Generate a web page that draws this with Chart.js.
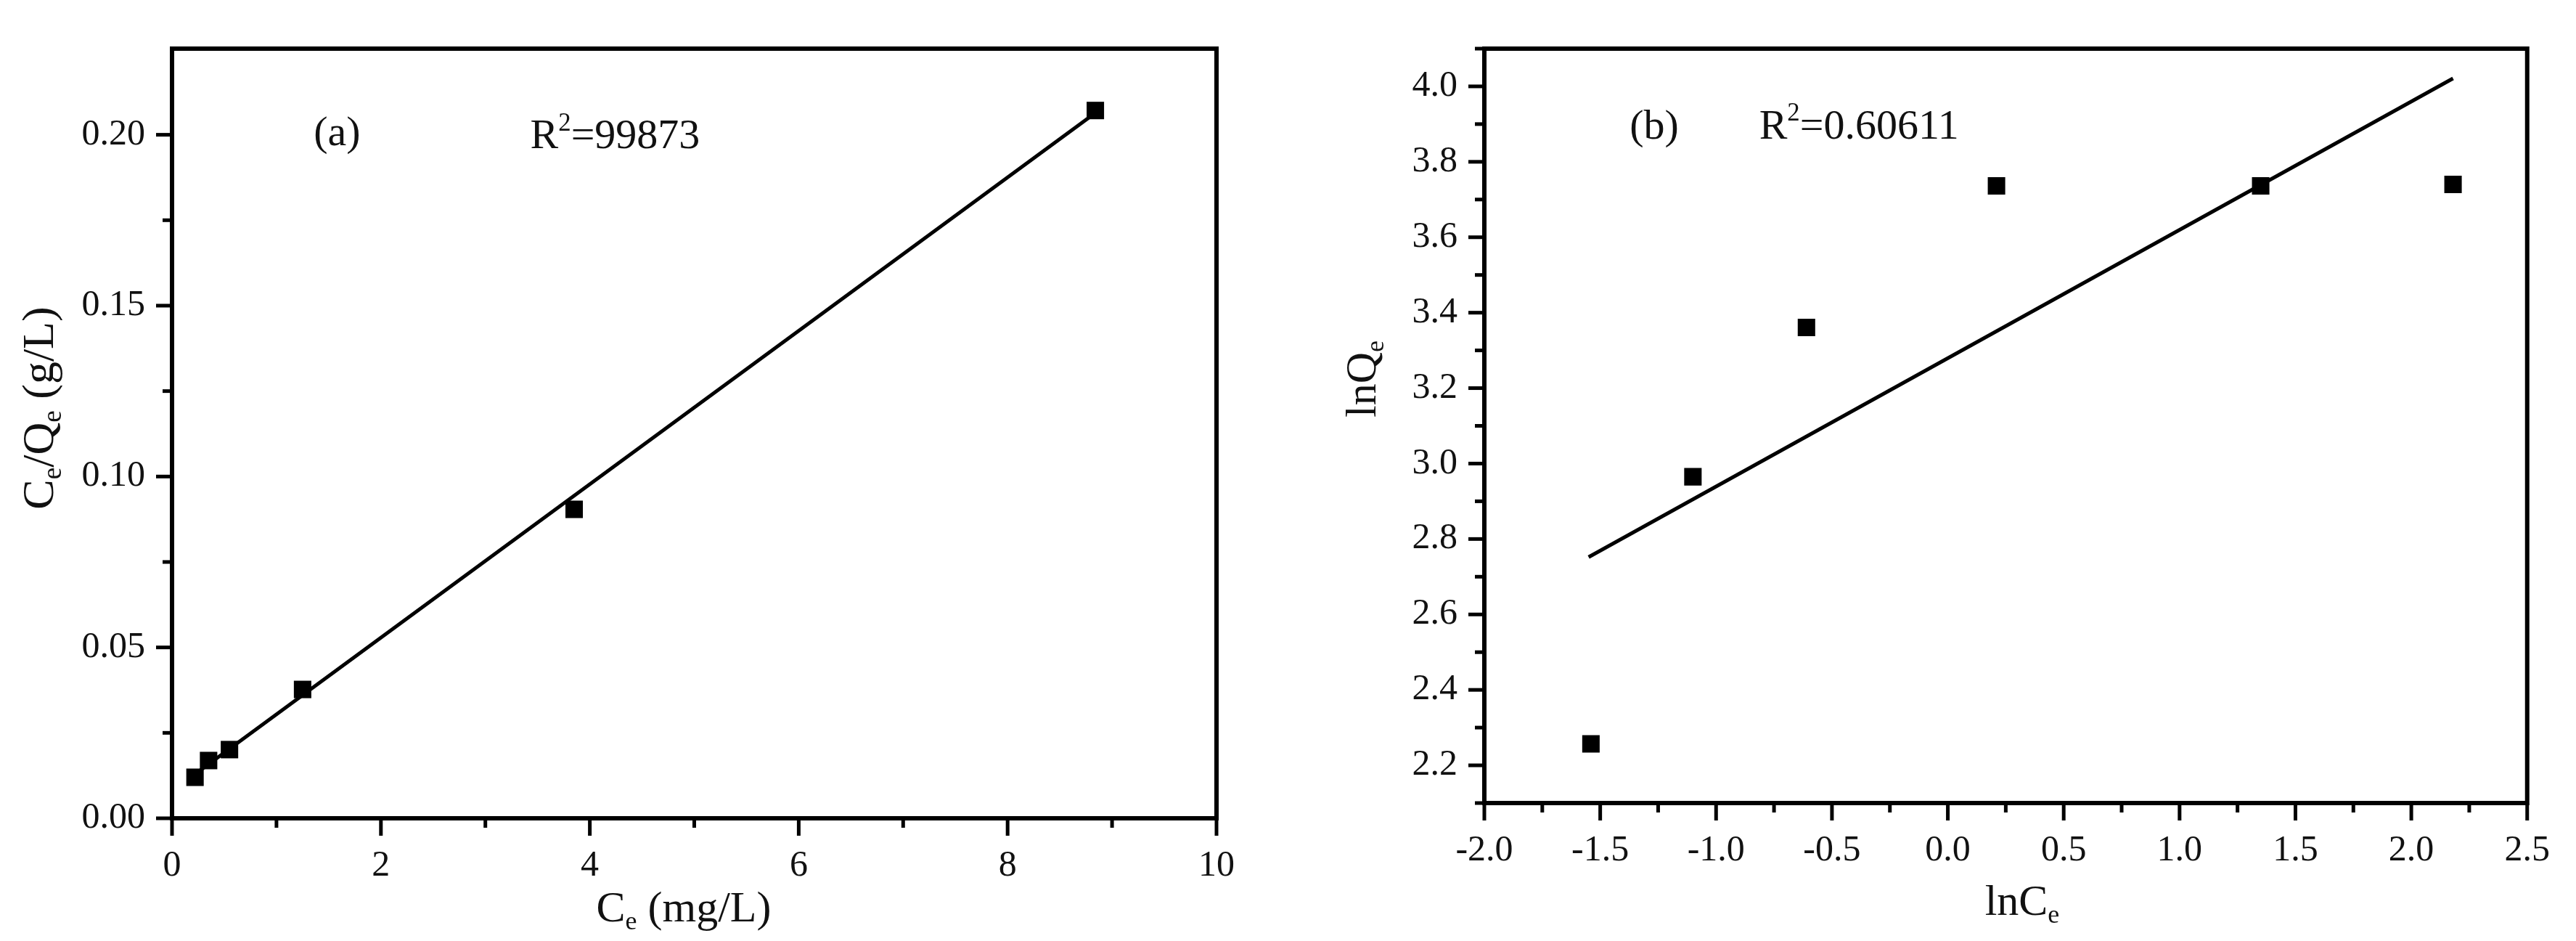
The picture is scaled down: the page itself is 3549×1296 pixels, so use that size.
<!DOCTYPE html>
<html>
<head>
<meta charset="utf-8">
<script src="https://cdn.jsdelivr.net/npm/chart.js@4.4.0/dist/chart.umd.min.js"></script>
<style>
html, body { margin: 0; padding: 0; background: #fff; }
#wrap { position: relative; width: 3549px; height: 1296px; overflow: hidden; }
canvas { position: absolute; top: 0; }
#chartA { left: 0; }
#chartB { left: 1774px; }
</style>
</head>
<body>
<div id="wrap">
  <canvas id="chartA" width="1774" height="1296"></canvas>
  <canvas id="chartB" width="1775" height="1296"></canvas>
</div>
<script>
// panel (a): Ce/Qe against Ce
const ceA = [0.22, 0.35, 0.55, 1.25, 3.85, 8.84];
const ceQeA = [0.0120, 0.0169, 0.0201, 0.0377, 0.0904, 0.2071];
const fitXA = [0.22, 8.84];
const fitYA = [0.0129, 0.2064];
const xTicksA = [0, 2, 4, 6, 8, 10];
const xMinorA = [1, 3, 5, 7, 9];
const yTicksA = [0, 0.05, 0.10, 0.15, 0.20];
const yMinorA = [0.025, 0.075, 0.125, 0.175];

// panel (b): lnQe against lnCe
const lnCeB = [-1.54, -1.10, -0.61, 0.21, 1.35, 2.18];
const lnQeB = [2.257, 2.965, 3.361, 3.736, 3.736, 3.740];
const fitXB = [-1.55, 2.18];
const fitYB = [2.752, 4.021];
const xTicksB = [-2.0, -1.5, -1.0, -0.5, 0.0, 0.5, 1.0, 1.5, 2.0, 2.5];
const xMinorB = [-1.75, -1.25, -0.75, -0.25, 0.25, 0.75, 1.25, 1.75, 2.25];
const yTicksB = [2.2, 2.4, 2.6, 2.8, 3.0, 3.2, 3.4, 3.6, 3.8, 4.0];
const yMinorB = [2.1, 2.3, 2.5, 2.7, 2.9, 3.1, 3.3, 3.5, 3.7, 3.9, 4.1];

const FONT = "'Liberation Serif', 'Times New Roman', serif";
Chart.defaults.font.family = FONT;
Chart.defaults.color = '#000';

function pts(xs, ys) {
  return xs.map((x, i) => ({ x: x, y: ys[i] }));
}

// text with sub/superscripts
function drawRich(ctx, parts, x, y, size, align, rotate) {
  ctx.save();
  ctx.translate(x, y);
  if (rotate) ctx.rotate(-Math.PI / 2);
  ctx.textBaseline = 'alphabetic';
  ctx.textAlign = 'left';
  ctx.fillStyle = '#111';
  let total = 0;
  parts.forEach(p => {
    ctx.font = ((p.sub || p.sup) ? size * 0.6 : size) + 'px ' + FONT;
    total += ctx.measureText(p.t).width;
  });
  let cx = align === 'center' ? -total / 2 : 0;
  parts.forEach(p => {
    const s = (p.sub || p.sup) ? size * 0.6 : size;
    ctx.font = s + 'px ' + FONT;
    const dy = p.sub ? size * 0.18 : (p.sup ? -size * 0.42 : 0);
    ctx.fillText(p.t, cx, dy);
    cx += ctx.measureText(p.t).width;
  });
  ctx.restore();
}

const framePlugin = {
  id: 'frame',
  afterDraw(chart, args, opts) {
    const ctx = chart.ctx;
    const a = chart.chartArea;
    const x = chart.scales.x, y = chart.scales.y;
    ctx.save();
    ctx.strokeStyle = '#000';
    ctx.lineCap = 'butt';
    // ticks
    ctx.lineWidth = 5;
    const tick = (x1, y1, x2, y2) => { ctx.beginPath(); ctx.moveTo(x1, y1); ctx.lineTo(x2, y2); ctx.stroke(); };
    opts.xMajor.forEach(v => { const p = x.getPixelForValue(v); tick(p, a.bottom, p, a.bottom + 24); });
    opts.xMinor.forEach(v => { const p = x.getPixelForValue(v); tick(p, a.bottom, p, a.bottom + 13); });
    opts.yMajor.forEach(v => { const p = y.getPixelForValue(v); tick(a.left, p, a.left - 22, p); });
    opts.yMinor.forEach(v => { const p = y.getPixelForValue(v); tick(a.left, p, a.left - 13, p); });
    // box
    ctx.lineWidth = 6;
    ctx.strokeRect(a.left, a.top, a.right - a.left, a.bottom - a.top);
    ctx.restore();
    // notes inside the plot
    opts.notes.forEach(n => {
      drawRich(ctx, n.parts, x.getPixelForValue(n.x), y.getPixelForValue(n.y), n.size, n.align, false);
    });
    // axis titles
    opts.titles.forEach(t => {
      drawRich(ctx, t.parts, t.x, t.y, t.size, 'center', t.rotate);
    });
  }
};

function makeChart(id, cfg) {
  return new Chart(document.getElementById(id), {
    type: 'scatter',
    data: {
      datasets: [
        {
          data: pts(cfg.xs, cfg.ys),
          pointStyle: 'rect',
          pointRadius: 17,
          pointBackgroundColor: '#000',
          pointBorderWidth: 0,
          showLine: false
        },
        {
          data: pts(cfg.fitX, cfg.fitY),
          showLine: true,
          borderColor: '#000',
          borderWidth: 5,
          pointRadius: 0,
          fill: false
        }
      ]
    },
    options: {
      responsive: false,
      maintainAspectRatio: false,
      devicePixelRatio: 1,
      animation: false,
      layout: { padding: cfg.padding },
      plugins: {
        legend: { display: false },
        tooltip: { enabled: false },
        frame: {
          xMajor: cfg.xTicks, xMinor: cfg.xMinor,
          yMajor: cfg.yTicks, yMinor: cfg.yMinor,
          notes: cfg.notes, titles: cfg.titles
        }
      },
      scales: {
        x: {
          type: 'linear',
          min: cfg.xMin, max: cfg.xMax,
          afterFit: s => { s.height = cfg.xHeight; },
          afterBuildTicks: s => { s.ticks = cfg.xTicks.map(v => ({ value: v })); },
          grid: { display: false, drawTicks: false },
          border: { display: false },
          ticks: {
            padding: 36,
            maxRotation: 0,
            autoSkip: false,
            font: { size: 50 },
            color: '#111',
            callback: cfg.xFmt
          }
        },
        y: {
          type: 'linear',
          min: cfg.yMin, max: cfg.yMax,
          afterFit: s => { s.width = cfg.yWidth; },
          afterBuildTicks: s => { s.ticks = cfg.yTicks.map(v => ({ value: v })); },
          grid: { display: false, drawTicks: false },
          border: { display: false },
          ticks: {
            padding: 37,
            autoSkip: false,
            font: { size: 50 },
            color: '#111',
            callback: cfg.yFmt
          }
        }
      }
    },
    plugins: [framePlugin]
  });
}

makeChart('chartA', {
  xs: ceA, ys: ceQeA, fitX: fitXA, fitY: fitYA,
  xMin: 0, xMax: 10, yMin: 0, yMax: 0.2252,
  xTicks: xTicksA, xMinor: xMinorA, yTicks: yTicksA, yMinor: yMinorA,
  xFmt: v => String(v), yFmt: v => v.toFixed(2),
  padding: { left: 0, right: 98, top: 52, bottom: 0 },
  xHeight: 169, yWidth: 237,
  notes: [
    { x: 1.58, y: 0.197, size: 58, align: 'center', parts: [{ t: '(a)' }] },
    { x: 3.43, y: 0.196, size: 58, align: 'left', parts: [{ t: 'R' }, { t: '2', sup: true }, { t: '=99873' }] }
  ],
  titles: [
    { x: 942, y: 1269, size: 60, rotate: false, parts: [{ t: 'C' }, { t: 'e', sub: true }, { t: ' (mg/L)' }] },
    { x: 73, y: 562, size: 62, rotate: true, parts: [{ t: 'C' }, { t: 'e', sub: true }, { t: '/Q' }, { t: 'e', sub: true }, { t: ' (g/L)' }] }
  ]
});

makeChart('chartB', {
  xs: lnCeB, ys: lnQeB, fitX: fitXB, fitY: fitYB,
  xMin: -2.0, xMax: 2.5, yMin: 2.1, yMax: 4.1,
  xTicks: xTicksB, xMinor: xMinorB, yTicks: yTicksB, yMinor: yMinorB,
  xFmt: v => v.toFixed(1), yFmt: v => v.toFixed(1),
  padding: { left: 0, right: 55, top: 30, bottom: 0 },
  xHeight: 190, yWidth: 271,
  notes: [
    { x: -1.267, y: 3.862, size: 58, align: 'center', parts: [{ t: '(b)' }] },
    { x: -0.814, y: 3.862, size: 58, align: 'left', parts: [{ t: 'R' }, { t: '2', sup: true }, { t: '=0.60611' }] }
  ],
  titles: [
    { x: 1012, y: 1260, size: 60, rotate: false, parts: [{ t: 'lnC' }, { t: 'e', sub: true }] },
    { x: 121, y: 522, size: 60, rotate: true, parts: [{ t: 'lnQ' }, { t: 'e', sub: true }] }
  ]
});
</script>
</body>
</html>
